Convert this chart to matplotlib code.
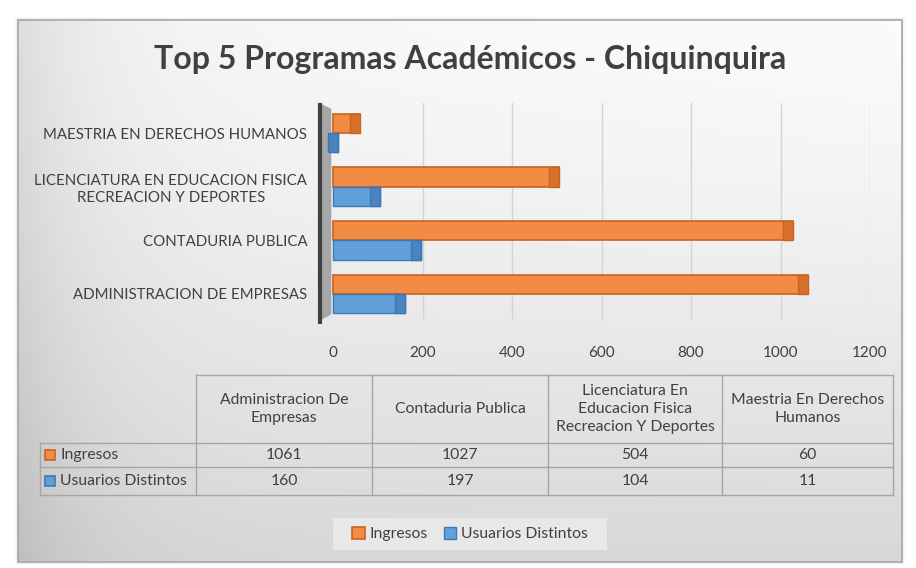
import numpy as np
import matplotlib
matplotlib.use("Agg")
import matplotlib.pyplot as plt
from matplotlib.patches import Rectangle, Polygon

plt.rcParams['font.family'] = ['Lato', 'DejaVu Sans']

# ---------------- data ----------------
title = "Top 5 Programas Académicos - Chiquinquira"
categories = ["ADMINISTRACION DE EMPRESAS", "CONTADURIA PUBLICA",
              "LICENCIATURA EN EDUCACION FISICA\nRECREACION Y DEPORTES",
              "MAESTRIA EN DERECHOS HUMANOS"]
table_headers = ["Administracion De\nEmpresas", "Contaduria Publica",
                 "Licenciatura En\nEducacion Fisica\nRecreacion Y Deportes",
                 "Maestria En Derechos\nHumanos"]
series_names = ["Ingresos", "Usuarios Distintos"]
ingresos = [1061, 1027, 504, 60]
usuarios = [160, 197, 104, 11]
x_ticks = [0, 200, 400, 600, 800, 1000, 1200]

ORANGE = "#F28C44"
ORANGE_DARK = "#C9631F"
ORANGE_CAP = "#D9712B"
BLUE = "#62A0DA"
BLUE_DARK = "#3A78B8"
BLUE_CAP = "#4A83BE"
TXT = "#404040"

W, H = 916, 568
fig = plt.figure(figsize=(W / 100, H / 100), dpi=100)
fig.patch.set_facecolor("#ffffff")

# ------------- background card (pixel coordinates) -------------
bg = fig.add_axes([0, 0, 1, 1], zorder=0)
bg.set_xlim(0, W)
bg.set_ylim(H, 0)
bg.axis("off")
for i, a in enumerate([0.05, 0.07, 0.09]):
    d = 3 - i
    bg.add_patch(Rectangle((18 - d, 20 - d), 884 + 2 * d, 542 + 2 * d,
                           facecolor="#909090", alpha=a, edgecolor="none"))
yy, xx = np.mgrid[0:542, 0:884]
L = 0.965 - 0.12 * (yy / 542.0) ** 1.4 - 0.10 * np.exp(-xx / 80.0) \
    + 0.02 * (xx / 884.0) * (1 - yy / 542.0)
img = np.clip(np.dstack([L, L, L]), 0, 1)
bg.imshow(img, extent=(18, 902, 562, 20), zorder=1, interpolation="bilinear")
bg.add_patch(Rectangle((18, 20), 884, 542, facecolor="none",
                       edgecolor="#a8a8a8", lw=1.2, zorder=2))

bg.text(470, 60, title, ha="center", va="center", fontsize=23,
        fontweight="bold", color="#404040", zorder=3)

# ------------- bar chart -------------
x0_px, x1_px = 317, 870
y_top, y_bot = 103, 324
ax = fig.add_axes([x0_px / W, 1 - y_bot / H, (x1_px - x0_px) / W, (y_bot - y_top) / H],
                  zorder=2)
ax.patch.set_alpha(0)
ax.set_xlim(-36, 1200)
ax.set_ylim(-0.56, 3.56)
for s in ax.spines.values():
    s.set_visible(False)

ypos = np.arange(len(categories))
bh = 0.36
for t in x_ticks[1:]:
    ax.plot([t, t], [-0.45, 3.56], color="#d4d4d4", lw=1, zorder=1)
ax.add_patch(Polygon([(-30, -0.5), (-30, 3.56), (-4, 3.45), (-4, -0.38)],
                     closed=True, facecolor="#a6a6a6", edgecolor="none", zorder=2))
ax.plot([-30, -30], [-0.52, 3.56], color="#404040", lw=3, zorder=3)

b1 = ax.barh(ypos + bh / 2, ingresos, height=bh, color=ORANGE,
             edgecolor=ORANGE_DARK, lw=1.2, zorder=4, label=series_names[0])
b2 = ax.barh(ypos - bh / 2, usuarios, height=bh, color=BLUE,
             edgecolor=BLUE_DARK, lw=1.0, zorder=4, label=series_names[1])
cap = 22
ax.barh(ypos + bh / 2, [cap] * len(ingresos), left=np.array(ingresos) - cap,
        height=bh, color=ORANGE_CAP, edgecolor=ORANGE_DARK, lw=1.0, zorder=5)
ax.barh(ypos - bh / 2, [cap] * len(usuarios), left=np.array(usuarios) - cap,
        height=bh, color=BLUE_CAP, edgecolor=BLUE_DARK, lw=1.0, zorder=5)

ax.set_yticks(ypos)
ax.set_yticklabels(categories, fontsize=10.8, color=TXT, multialignment="center",
                   linespacing=1.3)
ax.tick_params(axis="y", length=0, pad=7)
ax.set_xticks(x_ticks)
ax.set_xticklabels([str(t) for t in x_ticks], fontsize=11, color=TXT)
ax.tick_params(axis="x", length=0, pad=16)

# ------------- data table -------------
col_x = [40, 196, 372, 548, 722, 893]
row_y = [375, 443, 467, 495]
lc = "#a6a6a6"
bg.plot([col_x[1], col_x[-1]], [row_y[0], row_y[0]], color=lc, lw=1, zorder=3)
for r in row_y[1:]:
    bg.plot([col_x[0], col_x[-1]], [r, r], color=lc, lw=1, zorder=3)
for i, c in enumerate(col_x):
    top = row_y[0] if i > 0 else row_y[1]
    bg.plot([c, c], [top, row_y[-1]], color=lc, lw=1, zorder=3)
for j, hdr in enumerate(table_headers):
    cx = (col_x[j + 1] + col_x[j + 2]) / 2
    bg.text(cx, (row_y[0] + row_y[1]) / 2, hdr, ha="center", va="center",
            fontsize=11.3, color=TXT, zorder=4, linespacing=1.4)
for r, (name, vals, fc, ec) in enumerate([(series_names[0], ingresos, ORANGE, ORANGE_DARK),
                                          (series_names[1], usuarios, BLUE, BLUE_DARK)]):
    cy = (row_y[r + 1] + row_y[r + 2]) / 2
    bg.add_patch(Rectangle((45, cy - 5), 10, 10, facecolor=fc, edgecolor=ec,
                           lw=1.2, zorder=4))
    bg.text(60, cy, name, ha="left", va="center", fontsize=11.3, color=TXT, zorder=4)
    for j, v in enumerate(vals):
        cx = (col_x[j + 1] + col_x[j + 2]) / 2
        bg.text(cx, cy, str(v), ha="center", va="center", fontsize=11.3,
                color=TXT, zorder=4)

# ------------- legend -------------
bg.add_patch(Rectangle((333, 518), 274, 32, facecolor="#e8e8e8",
                       edgecolor="none", zorder=3))
leg = fig.legend(handles=[b1, b2], labels=series_names, loc="center",
                 bbox_to_anchor=(470 / W, 1 - 534 / H), ncol=2, frameon=False,
                 fontsize=11.3, handlelength=0.8, handleheight=0.8,
                 handletextpad=0.3, columnspacing=1.0)
for t in leg.get_texts():
    t.set_color(TXT)
leg.set_zorder(5)

fig.savefig("out.png", dpi=100)
